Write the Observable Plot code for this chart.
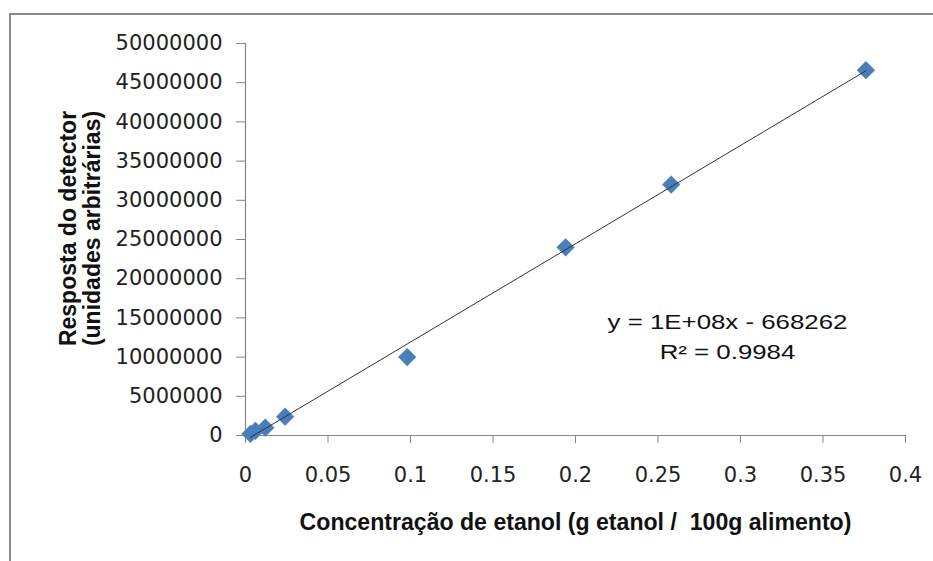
<!DOCTYPE html>
<html>
<head>
<meta charset="utf-8">
<script src="https://cdn.jsdelivr.net/npm/d3@7"></script>
<script src="https://cdn.jsdelivr.net/npm/@observablehq/plot@0.6"></script>
<style>
  html, body { margin: 0; padding: 0; background: #fff; overflow: hidden; }
  #wrap { position: relative; width: 933px; height: 561px; }
  #border { position: absolute; left: 9px; top: 13px; width: 1000px; height: 700px;
            border-top: 2px solid #8a8a8a; border-left: 2px solid #8a8a8a; pointer-events: none; }
</style>
</head>
<body>
<div id="wrap"><div id="border"></div><div id="chart"></div></div>
<script>
// Data
const concentration = [0.003, 0.006, 0.012, 0.024, 0.098, 0.194, 0.258, 0.376];
const response = [200000, 600000, 1000000, 2400000, 10000000, 24000000, 32000000, 46600000];
const xTicks = [0, 0.05, 0.1, 0.15, 0.2, 0.25, 0.3, 0.35, 0.4];
const yTicks = [0, 5000000, 10000000, 15000000, 20000000, 25000000, 30000000, 35000000, 40000000, 45000000, 50000000];
const xTitle = "Concentração de etanol (g etanol /  100g alimento)";
const yTitle = "Resposta do detector\n(unidades arbitrárias)";
const equation = "y = 1E+08x - 668262\nR² = 0.9984";

const data = concentration.map((x, i) => ({x, y: response[i]}));

const axisGray = "#868686";
const plot = Plot.plot({
  width: 933,
  height: 561,
  marginLeft: 245,
  marginRight: 28,
  marginTop: 43,
  marginBottom: 126,
  style: {background: "transparent", overflow: "visible"},
  x: {domain: [0, 0.4]},
  y: {domain: [0, 50000000]},
  marks: [
    Plot.axisY({ticks: yTicks, tickFormat: d => String(d), tickSize: 9, tickPadding: 14,
      stroke: axisGray, fill: "#222", fontSize: 21, fontFamily: "DejaVu Sans", label: null}),
    Plot.axisX({ticks: xTicks, tickFormat: d => String(d), tickSize: 8, tickPadding: 24,
      stroke: axisGray, fill: "#222", fontSize: 21, fontFamily: "DejaVu Sans", label: null}),
    Plot.ruleY([0], {stroke: axisGray, strokeWidth: 1.2}),
    Plot.ruleX([0], {stroke: axisGray, strokeWidth: 1.2}),
    Plot.dot(data, {x: "x", y: "y", symbol: "diamond2", r: 8, fill: "#4a7ebb", stroke: "#4a7ebb", strokeWidth: 0.5}),
    Plot.linearRegressionY(data, {x: "x", y: "y", ci: 0, stroke: "#333", strokeWidth: 1}),
    Plot.text([equation], {text: d => d, frameAnchor: "top-left", dx: 482, dy: 291,
      fontSize: 20, fontFamily: "'Liberation Sans', Arial, sans-serif", fill: "#111",
      textAnchor: "middle", lineAnchor: "middle", lineHeight: 1.5}),
    Plot.text([xTitle], {text: d => d, frameAnchor: "bottom", dy: 87,
      fontSize: 24, fontWeight: "bold",
      fontFamily: "'Liberation Sans', Arial, sans-serif", fill: "#111",
      textAnchor: "middle", lineAnchor: "middle"}),
    Plot.text([yTitle], {text: d => d, frameAnchor: "left", dx: -165, dy: -11, rotate: -90,
      fontSize: 23, fontWeight: "bold",
      fontFamily: "'Liberation Sans', Arial, sans-serif", fill: "#111",
      textAnchor: "middle", lineAnchor: "middle", lineHeight: 1.05})
  ]
});
document.getElementById("chart").appendChild(plot);

// Horizontal stretch/condense of text to mimic the reference's glyph proportions
function scaleTextX(el, s) {
  if (!isFinite(s) || s <= 0) return;
  const t = el.getAttribute("transform") || "";
  const x = +(el.getAttribute("x") || 0);
  el.setAttribute("transform", `${t} translate(${x},0) scale(${s},1) translate(${-x},0)`);
}
const allTexts = Array.from(plot.querySelectorAll("text"));
allTexts.filter(el => el.textContent === xTitle)
  .forEach(el => scaleTextX(el, 552 / el.getBBox().width));
allTexts.filter(el => el.textContent.includes("R²"))
  .forEach(el => scaleTextX(el, 240 / el.getBBox().width));
</script>
</body>
</html>
